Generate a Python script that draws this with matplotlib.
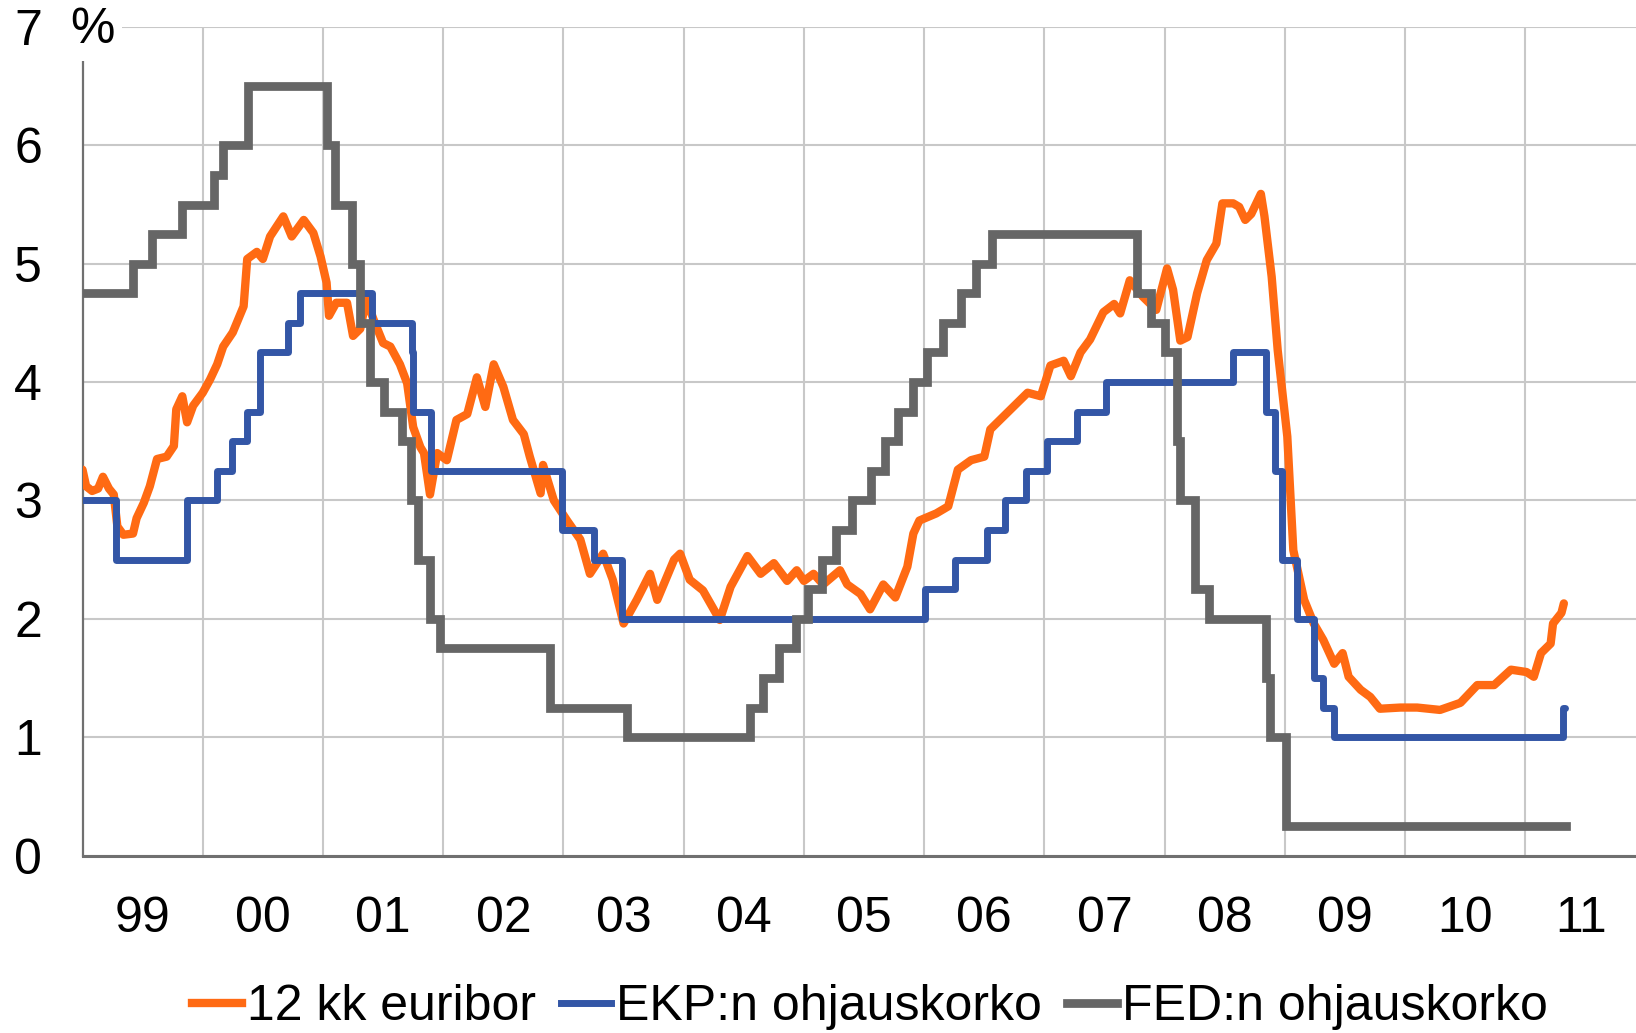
import matplotlib
matplotlib.use("Agg")
import matplotlib.pyplot as plt
from matplotlib.lines import Line2D
from matplotlib.patches import Rectangle

plt.rcParams['font.family'] = ['Liberation Sans', 'DejaVu Sans']

# ---------------- data ----------------
euribor_x = [1999.00, 1999.03, 1999.08, 1999.13, 1999.17, 1999.22, 1999.26, 1999.29, 1999.34, 1999.42,
             1999.45, 1999.51, 1999.56, 1999.62, 1999.70, 1999.76, 1999.78, 1999.83, 1999.87, 1999.92,
             2000.00, 2000.06, 2000.12, 2000.17, 2000.25, 2000.34, 2000.37, 2000.45, 2000.50, 2000.56,
             2000.67, 2000.74, 2000.84, 2000.92, 2000.98, 2001.03, 2001.05, 2001.11, 2001.20, 2001.25,
             2001.31, 2001.36, 2001.42, 2001.50, 2001.56, 2001.64, 2001.70, 2001.75, 2001.81, 2001.84,
             2001.89, 2001.95, 2002.03, 2002.11, 2002.20, 2002.28, 2002.35, 2002.42, 2002.50, 2002.58,
             2002.67, 2002.72, 2002.81, 2002.83, 2002.92, 2003.03, 2003.14, 2003.22, 2003.33, 2003.41,
             2003.50, 2003.61, 2003.72, 2003.78, 2003.92, 2003.97, 2004.05, 2004.16, 2004.30, 2004.39,
             2004.53, 2004.64, 2004.75, 2004.86, 2004.94, 2005.00, 2005.08, 2005.16, 2005.30, 2005.36,
             2005.47, 2005.55, 2005.66, 2005.76, 2005.86, 2005.91, 2005.96, 2006.10, 2006.20, 2006.28,
             2006.39, 2006.50, 2006.55, 2006.72, 2006.86, 2006.97, 2007.05, 2007.16, 2007.22, 2007.30,
             2007.38, 2007.49, 2007.58, 2007.63, 2007.71, 2007.82, 2007.93, 2008.02, 2008.07, 2008.13,
             2008.19, 2008.27, 2008.35, 2008.43, 2008.48, 2008.57, 2008.62, 2008.67, 2008.72, 2008.80,
             2008.83, 2008.89, 2008.94, 2009.02, 2009.07, 2009.16, 2009.24, 2009.32, 2009.41, 2009.48,
             2009.53, 2009.63, 2009.71, 2009.79, 2009.96, 2010.10, 2010.29, 2010.46, 2010.60, 2010.74,
             2010.88, 2011.01, 2011.07, 2011.13, 2011.21, 2011.23, 2011.30, 2011.32]
euribor_y = [3.26, 3.12, 3.08, 3.10, 3.20, 3.10, 3.05, 2.78, 2.71, 2.72,
             2.85, 2.98, 3.12, 3.35, 3.37, 3.46, 3.77, 3.88, 3.66, 3.80,
             3.91, 4.02, 4.15, 4.30, 4.42, 4.64, 5.04, 5.10, 5.04, 5.23,
             5.40, 5.23, 5.37, 5.26, 5.06, 4.84, 4.56, 4.67, 4.67, 4.39,
             4.45, 4.70, 4.53, 4.33, 4.30, 4.15, 3.99, 3.62, 3.45, 3.40,
             3.05, 3.40, 3.34, 3.68, 3.73, 4.04, 3.79, 4.15, 3.96, 3.68,
             3.56, 3.37, 3.06, 3.30, 3.00, 2.83, 2.67, 2.38, 2.55, 2.33,
             1.96, 2.16, 2.38, 2.16, 2.50, 2.55, 2.33, 2.24, 1.99, 2.27,
             2.53, 2.38, 2.47, 2.32, 2.41, 2.32, 2.38, 2.29, 2.41, 2.29,
             2.21, 2.08, 2.29, 2.18, 2.44, 2.72, 2.83, 2.89, 2.95, 3.26,
             3.34, 3.37, 3.60, 3.77, 3.91, 3.88, 4.14, 4.18, 4.05, 4.25,
             4.36, 4.59, 4.66, 4.58, 4.86, 4.72, 4.61, 4.96, 4.78, 4.35,
             4.38, 4.75, 5.03, 5.17, 5.51, 5.51, 5.48, 5.37, 5.42, 5.59,
             5.40, 4.89, 4.27, 3.54, 2.58, 2.16, 1.96, 1.82, 1.62, 1.71,
             1.51, 1.40, 1.34, 1.24, 1.25, 1.25, 1.23, 1.29, 1.44, 1.44,
             1.57, 1.55, 1.51, 1.71, 1.79, 1.96, 2.05, 2.13]

ecb_x = [1999.0, 1999.28, 1999.87, 2000.12, 2000.24, 2000.37, 2000.48, 2000.71, 2000.81, 2001.41,
         2001.74, 2001.75, 2001.90, 2002.99, 2003.25, 2003.49, 2006.01, 2006.26, 2006.52, 2006.67,
         2006.85, 2007.02, 2007.27, 2007.51, 2008.57, 2008.84, 2008.92, 2008.98, 2009.10, 2009.24,
         2009.32, 2009.41, 2011.31, 2011.33]
ecb_y = [3.0, 2.5, 3.0, 3.25, 3.5, 3.75, 4.25, 4.5, 4.75, 4.5,
         4.25, 3.75, 3.25, 2.75, 2.5, 2.0, 2.25, 2.5, 2.75, 3.0,
         3.25, 3.5, 3.75, 4.0, 4.25, 3.75, 3.25, 2.5, 2.0, 1.5,
         1.25, 1.0, 1.25, 1.25]

fed_x = [1999.0, 1999.42, 1999.58, 1999.83, 2000.09, 2000.17, 2000.38, 2001.03, 2001.10, 2001.24,
         2001.31, 2001.39, 2001.51, 2001.66, 2001.73, 2001.79, 2001.89, 2001.97, 2002.89, 2003.53,
         2004.55, 2004.66, 2004.79, 2004.93, 2005.03, 2005.15, 2005.27, 2005.40, 2005.56, 2005.67,
         2005.78, 2005.91, 2006.02, 2006.16, 2006.31, 2006.43, 2006.56, 2007.77, 2007.89, 2008.00,
         2008.10, 2008.13, 2008.25, 2008.37, 2008.84, 2008.88, 2009.01, 2011.34]
fed_y = [4.75, 5.0, 5.25, 5.5, 5.75, 6.0, 6.5, 6.0, 5.5, 5.0,
         4.5, 4.0, 3.75, 3.5, 3.0, 2.5, 2.0, 1.75, 1.25, 1.0,
         1.25, 1.5, 1.75, 2.0, 2.25, 2.5, 2.75, 3.0, 3.25, 3.5,
         3.75, 4.0, 4.25, 4.5, 4.75, 5.0, 5.25, 4.75, 4.5, 4.25,
         3.5, 3.0, 2.25, 2.0, 1.5, 1.0, 0.25, 0.25]

year_labels = ['99', '00', '01', '02', '03', '04', '05', '06', '07', '08', '09', '10', '11']
series_names = ['12 kk euribor', 'EKP:n ohjauskorko', 'FED:n ohjauskorko']
y_ticks = [0, 1, 2, 3, 4, 5, 6, 7]

# ---------------- style ----------------
C_OR = '#FF6A13'
C_BL = '#3356A6'
C_GR = '#666666'
FS = 36

W, H = 1636, 1033
fig = plt.figure(figsize=(W / 100, H / 100), dpi=100)
ax = fig.add_axes([82.5 / W, (H - 855.5) / H, (W - 82.5) / W, (855.5 - 27) / H])

XMIN, XMAX = 1999.0, 2011.92
ax.set_xlim(XMIN, XMAX)
ax.set_ylim(0, 7)

LW_OR, LW_BL, LW_GR = 6.0, 5.0, 6.3
ax.plot(euribor_x, euribor_y, color=C_OR, lw=LW_OR, solid_joinstyle='round',
        solid_capstyle='round', zorder=3)
ax.plot(ecb_x, ecb_y, color=C_BL, lw=LW_BL, drawstyle='steps-post',
        solid_joinstyle='round', solid_capstyle='round', zorder=4)
ax.plot(fed_x, fed_y, color=C_GR, lw=LW_GR, drawstyle='steps-post',
        solid_joinstyle='miter', zorder=5)

# grid
major = list(range(2000, 2012))
ax.set_xticks(major)
ax.set_xticklabels([''] * len(major))
minor = [y + 0.5 for y in range(1999, 2011)] + [(2011 + XMAX) / 2]
ax.set_xticks(minor, minor=True)
ax.set_xticklabels(year_labels, minor=True)
ax.set_yticks(y_ticks)
ax.set_yticklabels([str(v) for v in y_ticks])
ax.grid(True, which='major', color='#C8C8C8', lw=1.5, zorder=0)
ax.set_axisbelow(True)

ax.tick_params(axis='both', which='both', length=0, labelsize=FS, colors='black')
ax.tick_params(axis='x', which='minor', pad=29)
ax.tick_params(axis='y', pad=29)

for s in ['top', 'right']:
    ax.spines[s].set_visible(False)
ax.spines['left'].set_color('#707070')
ax.spines['left'].set_linewidth(1.6)
ax.spines['bottom'].set_color('#707070')
ax.spines['bottom'].set_linewidth(2.2)

# "%" unit label with white background covering the corner
fig.add_artist(Rectangle((50 / W, 1 - 61 / H), 72 / W, 61 / H, transform=fig.transFigure,
                         facecolor='white', edgecolor='none', zorder=10))
fig.text(92.5 / W, 1 - 30 / H, '%', fontsize=FS, ha='center', va='center', zorder=11)

handles = [Line2D([], [], color=C_OR, lw=LW_OR),
           Line2D([], [], color=C_BL, lw=LW_BL),
           Line2D([], [], color=C_GR, lw=LW_GR)]
fig.legend(handles, series_names, loc='center', bbox_to_anchor=(870 / W, 1 - 1007 / H),
           ncol=3, frameon=False, fontsize=FS, handlelength=1.0, handletextpad=0.1,
           columnspacing=0.5, borderaxespad=0, borderpad=0)

fig.savefig('out.png', dpi=100)
